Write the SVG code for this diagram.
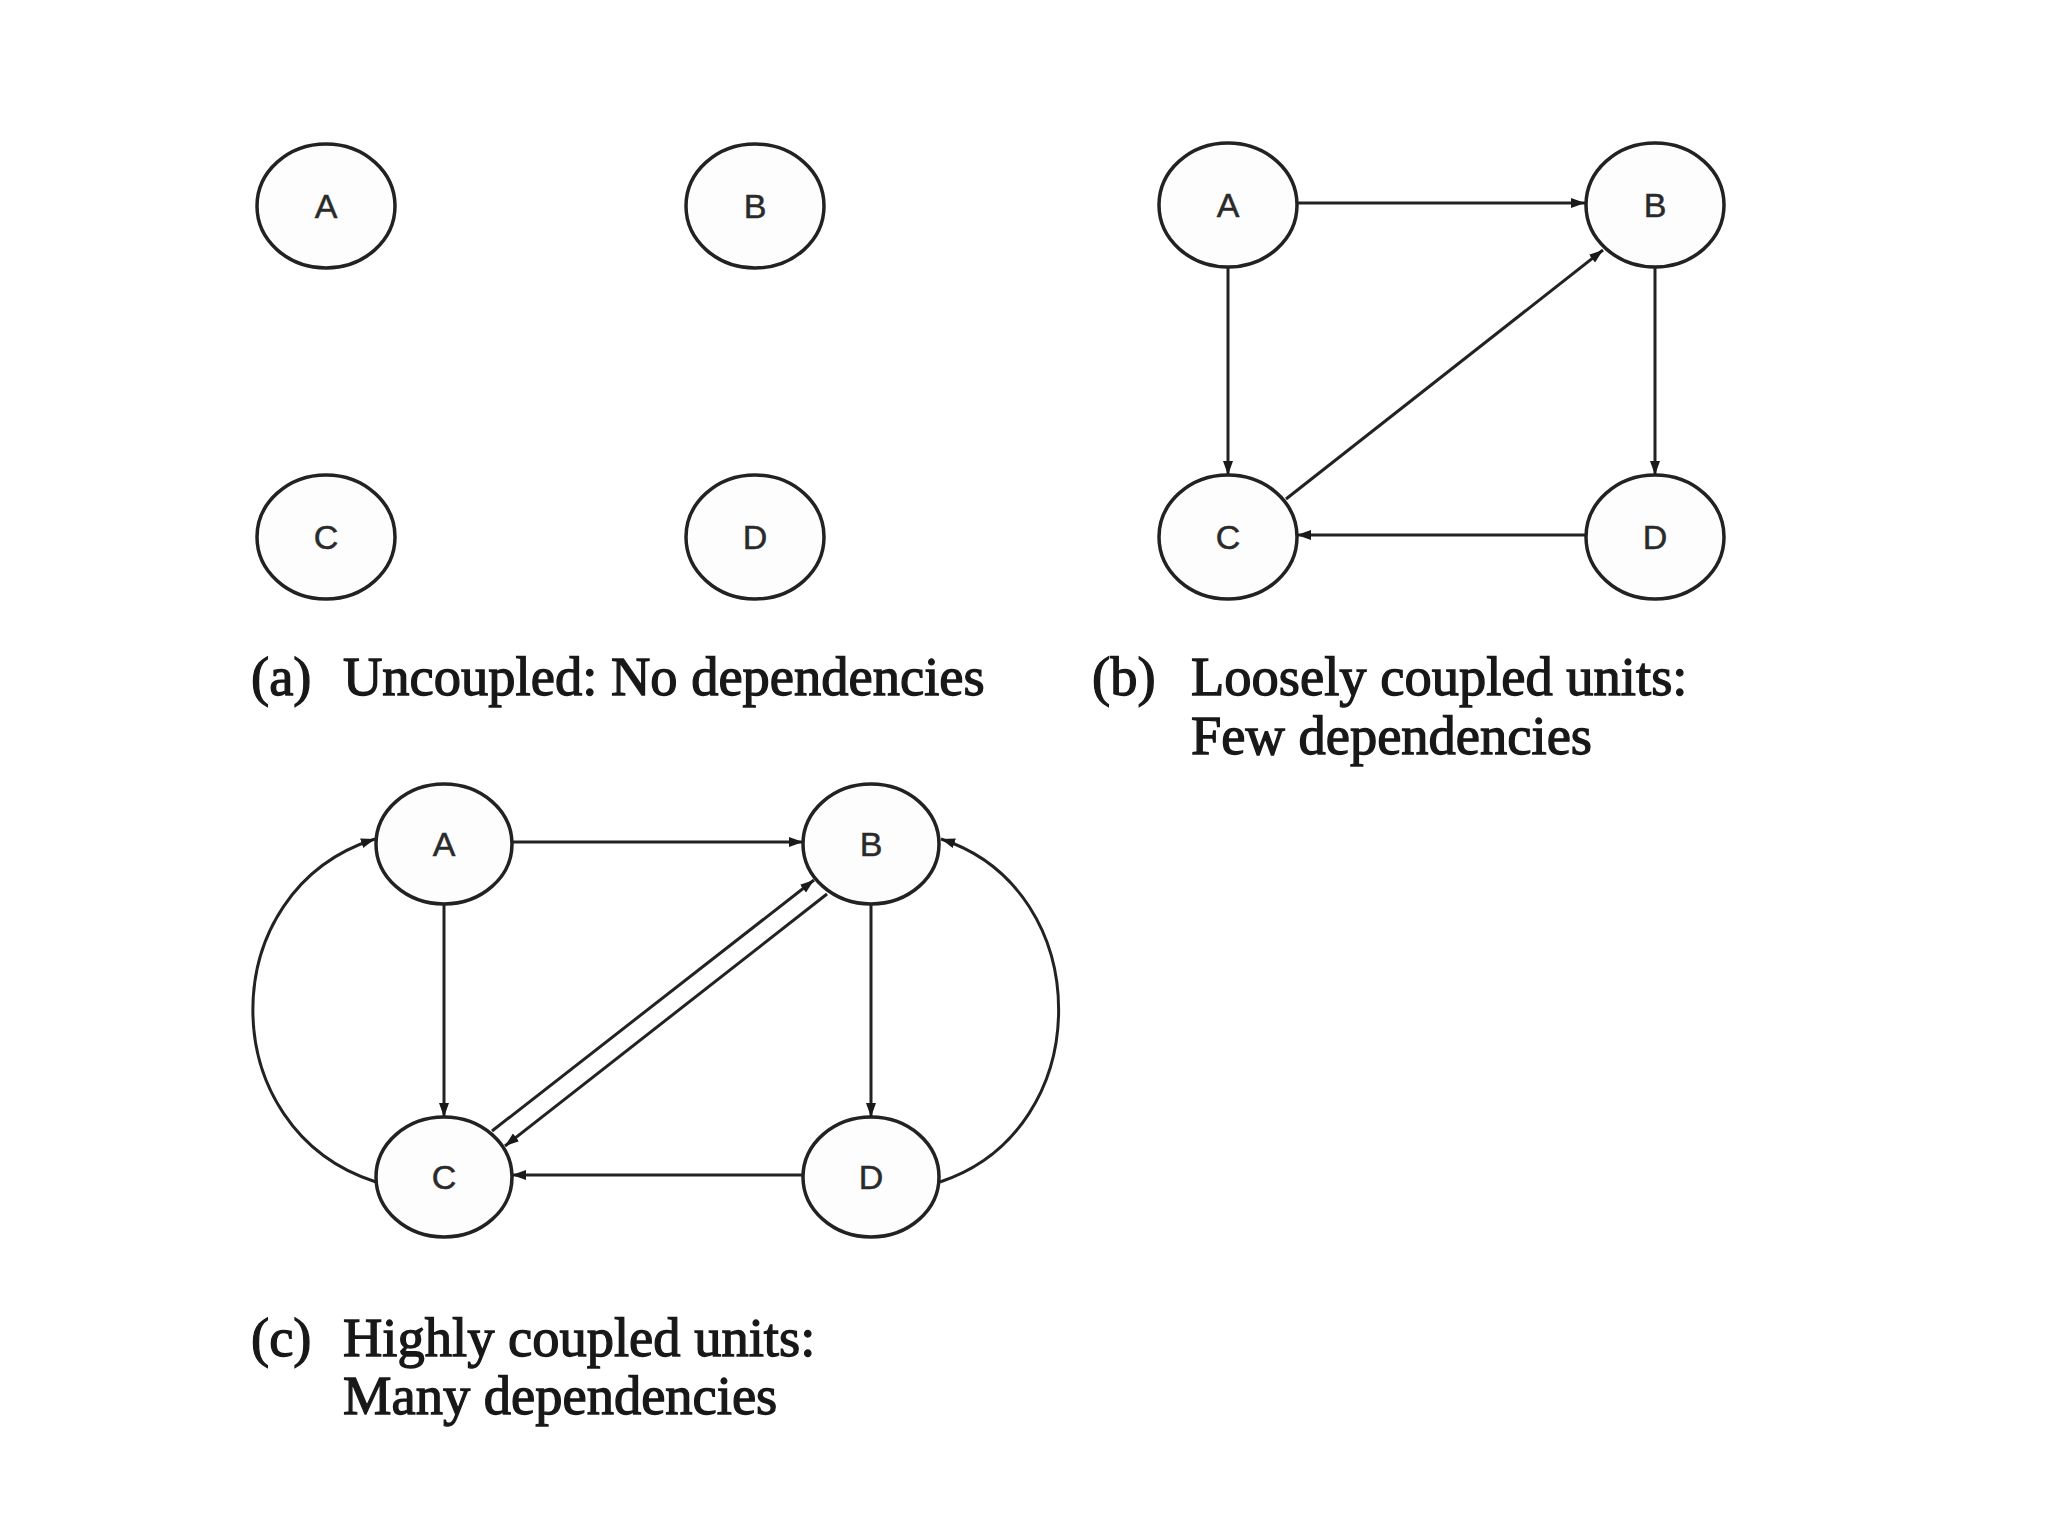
<svg xmlns="http://www.w3.org/2000/svg" width="2048" height="1536" viewBox="0 0 2048 1536">
<style>
.node ellipse{fill:#fdfdfd;stroke:#222;stroke-width:3.5}
.node text{font-family:"Liberation Sans",Arial,sans-serif;font-size:34px;fill:#2a2a2a;stroke:#2a2a2a;stroke-width:0.5;text-anchor:middle}
.edge{fill:none;stroke:#222;stroke-width:3}
.cap{font-family:"Liberation Serif","Times New Roman",serif;font-size:54.5px;fill:#181818;stroke:#181818;stroke-width:1.3}
</style>
<defs>
<marker id="ah" markerUnits="userSpaceOnUse" markerWidth="16" markerHeight="12" refX="14" refY="6" orient="auto">
<path d="M0,1 L14,6 L0,11 z" fill="#1a1a1a"/>
</marker>
</defs>
<rect width="2048" height="1536" fill="#fff"/>

<!-- Panel (a) -->
<g id="a-A" class="node"><ellipse cx="326" cy="206" rx="69" ry="62"/><text x="326" y="218">A</text></g>
<g id="a-B" class="node"><ellipse cx="755" cy="206" rx="69" ry="62"/><text x="755" y="218">B</text></g>
<g id="a-C" class="node"><ellipse cx="326" cy="537" rx="69" ry="62"/><text x="326" y="549">C</text></g>
<g id="a-D" class="node"><ellipse cx="755" cy="537" rx="69" ry="62"/><text x="755" y="549">D</text></g>

<!-- Panel (b) -->
<g id="b-A" class="node"><ellipse cx="1228" cy="205" rx="69" ry="62"/><text x="1228" y="217">A</text></g>
<g id="b-B" class="node"><ellipse cx="1655" cy="205" rx="69" ry="62"/><text x="1655" y="217">B</text></g>
<g id="b-C" class="node"><ellipse cx="1228" cy="537" rx="69" ry="62"/><text x="1228" y="549">C</text></g>
<g id="b-D" class="node"><ellipse cx="1655" cy="537" rx="69" ry="62"/><text x="1655" y="549">D</text></g>

<!-- Panel (c) -->
<g id="c-A" class="node"><ellipse cx="444" cy="844" rx="68" ry="60"/><text x="444" y="856">A</text></g>
<g id="c-B" class="node"><ellipse cx="871" cy="844" rx="68" ry="60"/><text x="871" y="856">B</text></g>
<g id="c-C" class="node"><ellipse cx="444" cy="1177" rx="68" ry="60"/><text x="444" y="1189">C</text></g>
<g id="c-D" class="node"><ellipse cx="871" cy="1177" rx="68" ry="60"/><text x="871" y="1189">D</text></g>

<g id="connectors">
<!-- (b) -->
<line class="edge" x1="1297" y1="203" x2="1585" y2="203" marker-end="url(#ah)"/>
<line class="edge" x1="1228" y1="267" x2="1228" y2="475" marker-end="url(#ah)"/>
<line class="edge" x1="1655" y1="267" x2="1655" y2="475" marker-end="url(#ah)"/>
<line class="edge" x1="1586" y1="535" x2="1297" y2="535" marker-end="url(#ah)"/>
<line class="edge" x1="1286" y1="499" x2="1603" y2="250" marker-end="url(#ah)"/>
<!-- (c) -->
<line class="edge" x1="512" y1="842" x2="803" y2="842" marker-end="url(#ah)"/>
<line class="edge" x1="444" y1="904" x2="444" y2="1117" marker-end="url(#ah)"/>
<line class="edge" x1="871" y1="904" x2="871" y2="1117" marker-end="url(#ah)"/>
<line class="edge" x1="803" y1="1175" x2="512" y2="1175" marker-end="url(#ah)"/>
<line class="edge" x1="492" y1="1131" x2="814" y2="880" marker-end="url(#ah)"/>
<line class="edge" x1="827" y1="894" x2="505" y2="1146" marker-end="url(#ah)"/>
<path class="edge" d="M376,1182 C212,1130 212,890 375,839" marker-end="url(#ah)"/>
<path class="edge" d="M940,1182 C1098,1130 1098,890 941,839" marker-end="url(#ah)"/>
</g>

<!-- Captions -->
<text class="cap" x="251" y="695">(a)</text>
<text class="cap" x="343" y="695">Uncoupled: No dependencies</text>
<text class="cap" x="1092" y="695">(b)</text>
<text class="cap" x="1191" y="695">Loosely coupled units:</text>
<text class="cap" x="1191" y="754">Few dependencies</text>
<text class="cap" x="251" y="1356">(c)</text>
<text class="cap" x="343" y="1356">Highly coupled units:</text>
<text class="cap" x="343" y="1414">Many dependencies</text>
</svg>
